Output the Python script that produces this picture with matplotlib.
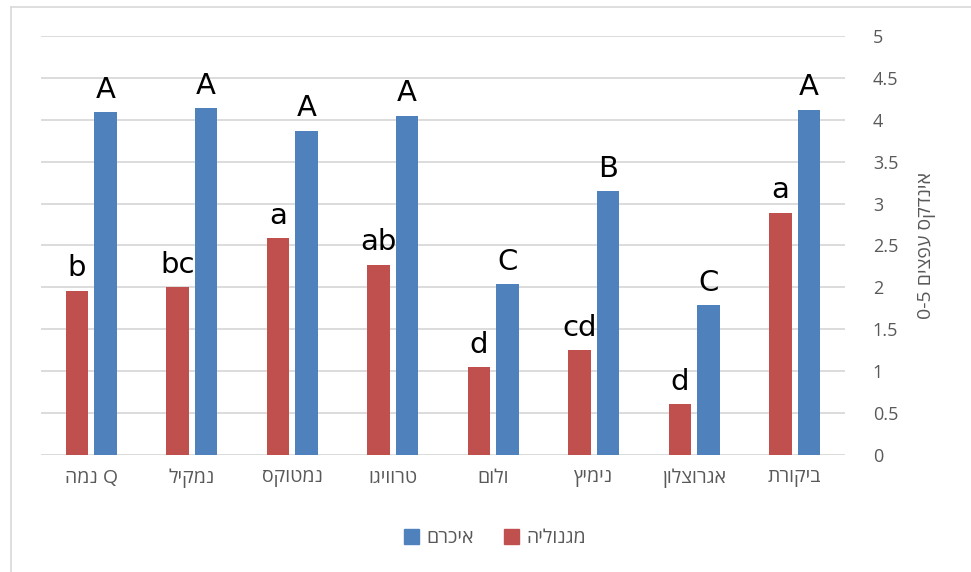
import numpy as np
import matplotlib
matplotlib.use("Agg")
import matplotlib.pyplot as plt
from matplotlib.lines import Line2D
from matplotlib.patches import Patch

plt.rcParams['font.family'] = ['Open Sans', 'DejaVu Sans']

# data (logical hebrew order, reversed for drawing since matplotlib has no bidi)
categories = ["Q נמה", "נמקיל", "נמטוקס", "טרוויגו", "ולום", "נימיץ", "אגרוצלון", "ביקורת"]
magnolia = [1.96, 2.00, 2.59, 2.27, 1.05, 1.25, 0.61, 2.89]
ikram = [4.09, 4.14, 3.87, 4.05, 2.04, 3.15, 1.79, 4.12]
magnolia_letters = ["b", "bc", "a", "ab", "d", "cd", "d", "a"]
ikram_letters = ["A", "A", "A", "A", "C", "B", "C", "A"]
name_magnolia = "מגנוליה"
name_ikram = "איכרם"
ylabel = "0-5 " + "עפצים"[::-1] + " " + "אינדקס"[::-1]

def vis(s):
    return s[::-1]

RED = "#C0504D"
BLUE = "#4F81BD"

fig = plt.figure(figsize=(9.71, 5.72), dpi=100)
ax = fig.add_axes([41/971, 1-455/572, 804/971, (455-36)/572])

x = np.arange(len(categories))
w = 0.224
off = 0.142
ax.bar(x - off, magnolia, w, color=RED, zorder=3)
ax.bar(x + off, ikram, w, color=BLUE, zorder=3)

for i in range(len(x)):
    ax.text(x[i] - off, magnolia[i] + 0.1, magnolia_letters[i], ha='center', va='bottom',
            fontsize=21, family='DejaVu Sans', color='black')
    ax.text(x[i] + off, ikram[i] + 0.1, ikram_letters[i], ha='center', va='bottom',
            fontsize=21, family='DejaVu Sans', color='black')

ax.set_xlim(-0.5, len(x) - 0.5)
ax.set_ylim(0, 5)
ax.set_yticks(np.arange(0, 5.01, 0.5))
ax.set_yticklabels(["0", "0.5", "1", "1.5", "2", "2.5", "3", "3.5", "4", "4.5", "5"])
ax.yaxis.tick_right()
ax.yaxis.set_label_position('right')
ax.tick_params(axis='y', length=0, pad=20, labelsize=13, labelcolor='#595959')
ax.tick_params(axis='x', length=0, pad=10, labelsize=14, labelcolor='#595959')
ax.set_xticks(x)
ax.set_xticklabels([vis(c) for c in categories])
ax.set_ylabel(ylabel, rotation=90, fontsize=14, color='#595959', labelpad=14)
ax.grid(axis='y', color='#D9D9D9', linewidth=1.3, zorder=0)
for s in ax.spines.values():
    s.set_visible(False)

handles = [Patch(color=BLUE), Patch(color=RED)]
fig.legend(handles, [vis(name_ikram), vis(name_magnolia)], loc='center',
           bbox_to_anchor=(495/971, 1-538/572), ncol=2, frameon=False,
           fontsize=14, handlelength=0.8, handleheight=0.8, handletextpad=0.4,
           columnspacing=1.5, labelcolor='#595959')

fig.add_artist(Line2D([11/971, 1], [1-7/572, 1-7/572], color='#D9D9D9', lw=1.2))
fig.add_artist(Line2D([11/971, 11/971], [0, 1-7/572], color='#D9D9D9', lw=1.2))

fig.savefig("out.png", dpi=100)
